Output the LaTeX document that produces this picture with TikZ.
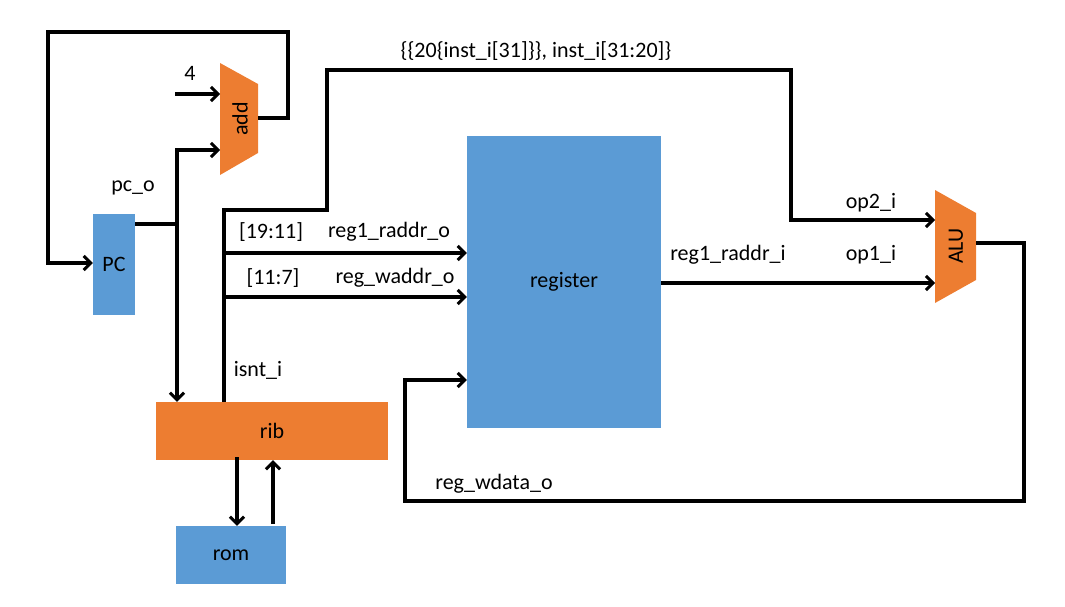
\documentclass[tikz,border=0pt]{standalone}
\usepackage{fontspec}
\setmainfont{Carlito}
\usetikzlibrary{arrows.meta}
\definecolor{blk}{HTML}{5B9BD5}
\definecolor{org}{HTML}{ED7D31}
\begin{document}
\begin{tikzpicture}[x=1pt,y=-1pt,
  box/.style={draw=none,inner sep=0pt,font=\fontsize{22}{24}\selectfont,text=black},
  bluebox/.style={box,fill=blk},
  orangebox/.style={box,fill=org},
  wire/.style={line width=3.2pt,black},
  arr/.style={wire,-{Straight Barb[length=7pt,width=14pt,line width=3pt]}},
  lbl/.style={inner sep=0pt,font=\fontsize{22}{24}\selectfont,text=black}]
\useasboundingbox (0,0) rectangle (1065,607);

% blocks
\node[bluebox,minimum width=42pt,minimum height=101pt] (pc) at (114,264.5) {PC};
\node[orangebox,minimum width=232pt,minimum height=58pt] (rib) at (272,431) {rib};
\node[bluebox,minimum width=110pt,minimum height=58pt] (rom) at (231,555) {rom};
\node[bluebox,minimum width=194pt,minimum height=292pt] (reg) at (564,282) {register};

% adder and ALU as trapezoids
\fill[org] (220,63) -- (258,84) -- (258,153) -- (220,175) -- cycle;
\node[lbl,rotate=90] (add) at (240,119) {add};
\fill[org] (935,190) -- (976,213) -- (976,280) -- (935,303) -- cycle;
\node[lbl,rotate=90] (alu) at (956,246) {ALU};

% anchor points on the trapezoids
\coordinate (addin4) at (220,94);
\coordinate (addinpc) at (220,150);
\coordinate (addout) at (258,118);
\coordinate (aluop2) at (935,220);
\coordinate (aluop1) at (935,283);
\coordinate (aluout) at (976,243);
\coordinate (four) at (175,94);
\coordinate (pcsplit) at (177,224);
\coordinate (instsplit) at (224,253);
\coordinate (instsplit2) at (224,297);

% PC update loop
\draw[arr] (addout) -- (288,118) -- (288,32) -- (48,32) -- (48,263) -- (pc.west |- 0,263);
\draw[arr] (four) -- (addin4);
\draw[wire] (pc.east |- pcsplit) -- (pcsplit);
\draw[arr] (pcsplit) -- (177,150) -- (addinpc);
\draw[arr] (pcsplit) -- (pcsplit |- rib.north);

% rib <-> rom
\draw[arr] (237,457) -- (237 , 0 |- rom.north);
\draw[arr] (273,524) -- (273 , 0 |- rib.south);

% instruction fields
\draw[wire] (224,402) -- (224,210) -- (327,210) -- (327,70) -- (791,70) -- (791,220) -- (880,220);
\draw[arr] (791,220) -- (aluop2);
\draw[arr] (instsplit) -- (reg.west |- instsplit);
\draw[arr] (instsplit2) -- (reg.west |- instsplit2);

% register read to ALU
\draw[arr] (reg.east |- aluop1) -- (aluop1);

% write back
\draw[arr] (aluout) -- (1024,243) -- (1024,501) -- (405,501) -- (405,380) -- (reg.west |- 0,380);

% labels
\node[lbl] at (190,73) {4};
\node[lbl] at (133,188) {pc\_o};
\node[lbl] at (536,51) {\{\{20\{inst\_i[31]\}\}, inst\_i[31:20]\}};
\node[lbl] at (271,232) {[19:11]};
\node[lbl] at (389,232) {reg1\_raddr\_o};
\node[lbl] at (273,278) {[11:7]};
\node[lbl] at (395,278) {reg\_waddr\_o};
\node[lbl] at (258,370) {isnt\_i};
\node[lbl] at (728,255) {reg1\_raddr\_i};
\node[lbl] at (871,255) {op1\_i};
\node[lbl] at (871,203) {op2\_i};
\node[lbl] at (494,484) {reg\_wdata\_o};
\end{tikzpicture}
\end{document}
